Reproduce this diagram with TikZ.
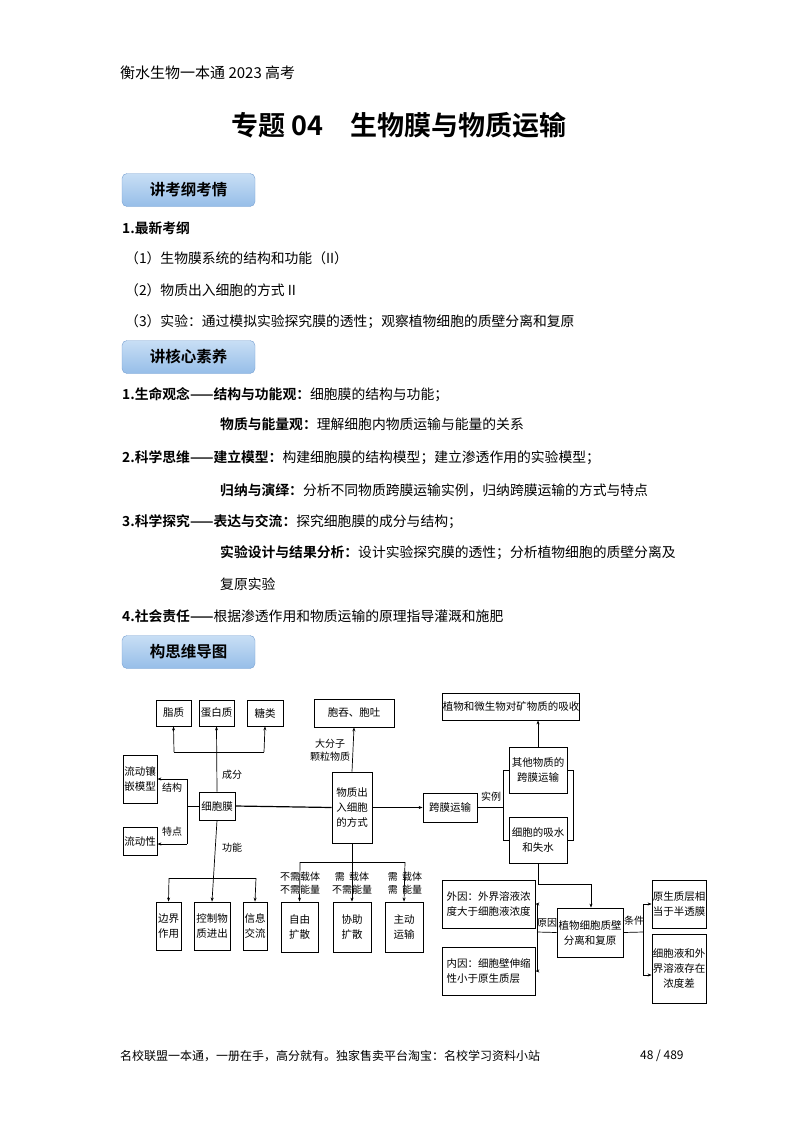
\documentclass[tikz,border=0pt]{standalone}
\usepackage{fontspec}
\setmainfont{Noto Sans CJK SC}[BoldFont={Noto Sans CJK SC Bold}]
\usetikzlibrary{arrows.meta}
\begin{document}
\begin{tikzpicture}[x=1pt,y=-1pt,
 txt/.style={anchor=west,inner sep=0pt,font=\fontsize{13.8}{13.8}\selectfont},
 badge/.style={draw={rgb,255:red,120;green,160;blue,210},rounded corners=5pt,top color={rgb,255:red,200;green,222;blue,245},bottom color={rgb,255:red,150;green,190;blue,232},minimum width=133pt,minimum height=33pt,font=\fontsize{15.5}{15.5}\selectfont\bfseries},
 bx/.style={draw,line width=0.8pt,inner sep=0pt,align=center,font=\fontsize{10.5}{15}\selectfont},
 lbl/.style={inner sep=0pt,align=center,font=\fontsize{10}{13}\selectfont},
 ln/.style={line width=0.7pt},
 arr/.style={line width=0.7pt,-{Stealth[length=4pt,width=3pt]}}]
\useasboundingbox (0,0) rectangle (800,1132);
\node[txt,font=\fontsize{15}{15}\selectfont] (hd) at (120,73) {衡水生物一本通 2023 高考};
\node[inner sep=0pt,font=\fontsize{27}{27}\selectfont\bfseries] (tt) at (399,125) {专题 04\quad 生物膜与物质运输};
\node[badge] (b1) at (188.5,190) {讲考纲考情};
\node[txt,font=\fontsize{13.8}{13.8}\selectfont\bfseries] (t1) at (122,228) {1.最新考纲};
\node[txt] (t2) at (125,258) {（1）生物膜系统的结构和功能（II）};
\node[txt] (t3) at (125,290) {（2）物质出入细胞的方式 II};
\node[txt] (t4) at (125,322) {（3）实验：通过模拟实验探究膜的透性；观察植物细胞的质壁分离和复原};
\node[badge] (b2) at (188.5,357) {讲核心素养};
\node[txt] (s1) at (122,395) {\textbf{1.生命观念——结构与功能观：}细胞膜的结构与功能；};
\node[txt] (s2) at (220,424) {\textbf{物质与能量观：}理解细胞内物质运输与能量的关系};
\node[txt] (s3) at (122,458) {\textbf{2.科学思维——建立模型：}构建细胞膜的结构模型；建立渗透作用的实验模型；};
\node[txt] (s4) at (220,490) {\textbf{归纳与演绎：}分析不同物质跨膜运输实例，归纳跨膜运输的方式与特点};
\node[txt] (s5) at (122,522) {\textbf{3.科学探究——表达与交流：}探究细胞膜的成分与结构；};
\node[txt] (s6) at (220,553) {\textbf{实验设计与结果分析：}设计实验探究膜的透性；分析植物细胞的质壁分离及};
\node[txt] (s7) at (220,584) {复原实验};
\node[txt] (s8) at (122,616) {\textbf{4.社会责任——}根据渗透作用和物质运输的原理指导灌溉和施肥};
\node[badge] (b3) at (188.5,652) {构思维导图};
% diagram boxes
\node[bx,minimum width=35pt,minimum height=26pt] (lip) at (173.5,713) {脂质};
\node[bx,minimum width=35pt,minimum height=26pt] (pro) at (216.5,713) {蛋白质};
\node[bx,minimum width=36pt,minimum height=26pt] (sug) at (265,713) {糖类};
\node[bx,minimum width=80pt,minimum height=28pt] (endo) at (354,713) {胞吞、胞吐};
\node[bx,minimum width=34pt,minimum height=48pt] (lfm) at (140,779) {流动镶\\嵌模型};
\node[bx,minimum width=34pt,minimum height=28pt] (lfx) at (140,841) {流动性};
\node[bx,minimum width=36pt,minimum height=28pt] (mem) at (217,806) {细胞膜};
\node[bx,minimum width=40pt,minimum height=71pt] (way) at (352,807.5) {物质出\\入细胞\\的方式};
\node[bx,minimum width=54pt,minimum height=29pt] (ktm) at (450,807.5) {跨膜运输};
\node[bx,minimum width=25pt,minimum height=48pt] (bnd) at (168.5,926) {边界\\作用};
\node[bx,minimum width=36pt,minimum height=48pt] (ctl) at (212,926) {控制物\\质进出};
\node[bx,minimum width=24pt,minimum height=48pt] (inf) at (255,926) {信息\\交流};
\node[bx,minimum width=37pt,minimum height=50pt] (fre) at (299.5,927) {自由\\扩散};
\node[bx,minimum width=38pt,minimum height=50pt] (fac) at (352,927) {协助\\扩散};
\node[bx,minimum width=38pt,minimum height=50pt] (act) at (404,927) {主动\\运输};
\node[bx,minimum width=136pt,minimum height=27pt] (mnr) at (511,706.5) {植物和微生物对矿物质的吸收};
\node[bx,minimum width=58pt,minimum height=46pt] (oth) at (538,770) {其他物质的\\跨膜运输};
\node[bx,minimum width=58pt,minimum height=46pt] (wat) at (538,840) {细胞的吸水\\和失水};
\node[bx,minimum width=66pt,minimum height=49pt] (plm) at (590,932.5) {植物细胞质壁\\分离和复原};
\node[bx,minimum width=93pt,minimum height=48pt,align=left] (ext) at (488.5,904) {外因：外界溶液浓\\度大于细胞液浓度};
\node[bx,minimum width=93pt,minimum height=48pt,align=left] (int) at (488.5,971) {内因：细胞壁伸缩\\性小于原生质层};
\node[bx,minimum width=54pt,minimum height=48pt] (pro2) at (679,904) {原生质层相\\当于半透膜};
\node[bx,minimum width=54pt,minimum height=69pt] (con) at (679,968.5) {细胞液和外\\界溶液存在\\浓度差};
% connectors left
\draw[arr] (mem.north) -- (pro.south);
\draw[arr] (174,752) -- (lip.south);
\draw[ln] (174,752) -- (264,752);
\draw[arr] (264,752) -- (sug.south);
\node[lbl] (l1) at (232,775) {成分};
\coordinate (j2) at (187,806);
\draw[ln] (mem.west) -- (j2);
\draw[ln] (187,779) -- (187,844);
\draw[arr] (187,779) -- (lfm.east |- 187,779);
\draw[arr] (187,844) -- (lfx.east |- 187,844);
\node[lbl] (l2) at (172,788) {结构};
\node[lbl] (l3) at (172,832) {特点};
\draw[arr] (mem.south) -- (ctl.north);
\node[lbl] (l4) at (232,848) {功能};
\draw[ln] (169,878) -- (256,878);
\draw[arr] (169,878) -- (bnd.north);
\draw[arr] (256,878) -- (inf.north);
\draw[line width=1.2pt] (mem.east) -- (way.west);
% middle
\draw[arr] (way.north) -- (endo.south);
\node[lbl] (l5) at (330,750) {大分子\\颗粒物质};
\draw[arr] (way.east) -- (ktm.west);
\draw[ln] (way.south) -- (352,862);
\draw[ln] (300,862) -- (405,862);
\draw[arr] (300,862) -- (fre.north);
\draw[arr] (352,862) -- (fac.north);
\draw[arr] (405,862) -- (act.north);
\node[lbl] (l6) at (300,883) {不需载体\\不需能量};
\node[lbl] (l7) at (352,883) {需\ \ 载体\\不需能量};
\node[lbl] (l8) at (405,883) {需\ \ 载体\\需\ \ 能量};
% right
\draw[line width=1.2pt] (ktm.east) -- (503,807.5);
\node[lbl] (l9) at (491,797) {实例};
\draw[ln] (503,770) -- (503,840);
\draw[ln] (503,770) -- (oth.west);
\draw[ln] (503,840) -- (wat.west);
\draw[ln] (oth.east) -- (573,770) -- (573,840) -- (wat.east);
\draw[arr] (oth.north) -- (mnr.south -| oth.north);
\draw[arr] (wat.south) |- (591,884) -- (plm.north -| 591,884);
\draw[ln] (plm.west) -- (537,932);
\node[lbl] (l10) at (547,923) {原因};
\draw[ln] (537,904) -- (537,971);
\draw[arr] (537,904) -- (ext.east);
\draw[arr] (537,971) -- (int.east);
\draw[ln] (plm.east) -- (643,932);
\node[lbl] (l11) at (634,921) {条件};
\draw[ln] (643,904) -- (643,975);
\draw[arr] (643,904) -- (pro2.west);
\draw[arr] (643,975) -- (con.west |- 643,975);
% footer
\node[txt,font=\fontsize{12}{12}\selectfont] (ft) at (120,1056) {名校联盟一本通，一册在手，高分就有。独家售卖平台淘宝：名校学习资料小站};
\node[txt,font=\fontsize{12}{12}\selectfont] (pg) at (640,1056) {48 / 489};
\end{tikzpicture}
\end{document}
